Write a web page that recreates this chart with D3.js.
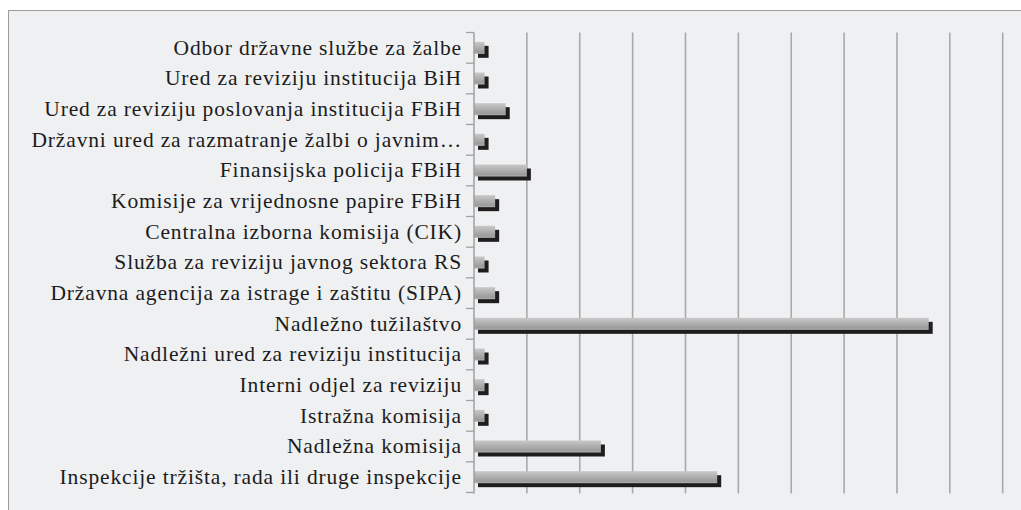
<!DOCTYPE html>
<html><head><meta charset="utf-8">
<script src="https://cdn.jsdelivr.net/npm/d3@7"></script>
<style>
html,body{margin:0;padding:0;background:#fff;}
svg{display:block;}
</style></head>
<body>
<svg id="chart" width="1021" height="510"></svg>
<script>
const categories = [
  "Odbor državne službe za žalbe",
  "Ured za reviziju institucija BiH",
  "Ured za reviziju poslovanja institucija FBiH",
  "Državni ured za razmatranje žalbi o javnim…",
  "Finansijska policija FBiH",
  "Komisije za vrijednosne papire FBiH",
  "Centralna izborna komisija (CIK)",
  "Služba za reviziju javnog sektora RS",
  "Državna agencija za istrage i zaštitu (SIPA)",
  "Nadležno tužilaštvo",
  "Nadležni ured za reviziju institucija",
  "Interni odjel za reviziju",
  "Istražna komisija",
  "Nadležna komisija",
  "Inspekcije tržišta, rada ili druge inspekcije"
];
const values = [1, 1, 3, 1, 5, 2, 2, 1, 2, 43, 1, 1, 1, 12, 23];
const xTicks = [0, 5, 10, 15, 20, 25, 30, 35, 40, 45, 50];

const svg = d3.select("#chart");
const W = 1021, H = 510;
const m = {left: 474, right: 18.3, top: 32.5, bottom: 17.5};

// frame
svg.append("rect").attr("x", 8.5).attr("y", 10.5).attr("width", 1030).attr("height", 520)
  .attr("fill", "#eff0f2").attr("stroke", "#9c9c9c").attr("stroke-width", 1);

const x = d3.scaleLinear().domain([0, 50]).range([m.left, W - m.right]);
const y = d3.scaleBand().domain(categories).range([m.top, H - m.bottom]);

const defs = svg.append("defs");
const g1 = defs.append("linearGradient").attr("id", "barGrad").attr("x1", 0).attr("y1", 0).attr("x2", 0).attr("y2", 1);
g1.append("stop").attr("offset", "0%").attr("stop-color", "#c9c9c9");
g1.append("stop").attr("offset", "45%").attr("stop-color", "#b0b0b0");
g1.append("stop").attr("offset", "85%").attr("stop-color", "#9b9b9b");
g1.append("stop").attr("offset", "100%").attr("stop-color", "#b4b4b4");

// gridlines
svg.append("g").selectAll("line").data(xTicks.slice(1)).join("line")
  .attr("x1", d => x(d)).attr("x2", d => x(d))
  .attr("y1", m.top).attr("y2", H - m.bottom + 1)
  .attr("stroke", "#a9a9a9").attr("stroke-width", 1.6);

// bars
const barH = 12;
const bars = svg.append("g");
bars.selectAll("rect.shadow").data(categories).join("rect").attr("class", "shadow")
  .attr("x", x(0) + 4)
  .attr("y", d => y(d) + y.bandwidth() / 2 - barH / 2 + 4)
  .attr("width", (d, i) => x(values[i]) - x(0))
  .attr("height", barH)
  .attr("fill", "#1f1d1e");
bars.selectAll("rect.bar").data(categories).join("rect").attr("class", "bar")
  .attr("x", x(0))
  .attr("y", d => y(d) + y.bandwidth() / 2 - barH / 2)
  .attr("width", (d, i) => x(values[i]) - x(0))
  .attr("height", barH)
  .attr("fill", "url(#barGrad)");

// left axis
const yAxis = d3.axisLeft(y).tickSize(0).tickPadding(12);
const ag = svg.append("g").attr("transform", `translate(${m.left},0)`).call(yAxis);
ag.select(".domain").attr("stroke", "#a0a0a0").attr("stroke-width", 1.5)
  .attr("d", `M0,${m.top}V${H - m.bottom + 1}`);
ag.selectAll("text")
  .attr("font-family", "'Liberation Serif', 'Times New Roman', serif")
  .attr("font-size", 21.5)
  .attr("letter-spacing", "0.85px")
  .attr("fill", "#1c1c1c")
  .attr("dy", "0.32em");
// category boundary ticks
const bounds = categories.map(c => y(c)).concat([y(categories[categories.length - 1]) + y.bandwidth()]);
ag.append("g").selectAll("line").data(bounds).join("line")
  .attr("x1", -8).attr("x2", 0).attr("y1", d => d).attr("y2", d => d)
  .attr("stroke", "#a0a0a0").attr("stroke-width", 1.3);
</script>
</body></html>
